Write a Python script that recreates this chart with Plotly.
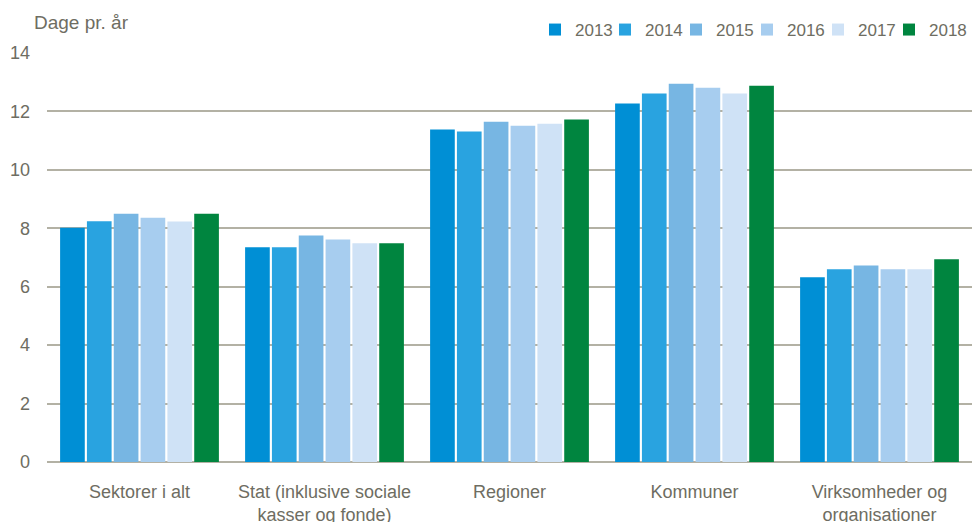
import plotly.graph_objects as go

categories = ["Sektorer i alt", "Stat (inklusive sociale<br>kasser og fonde)", "Regioner", "Kommuner", "Virksomheder og<br>organisationer"]
years = ["2013", "2014", "2015", "2016", "2017", "2018"]
v2013 = [8.02, 7.35, 11.38, 12.27, 6.32]
v2014 = [8.24, 7.35, 11.31, 12.61, 6.60]
v2015 = [8.50, 7.75, 11.65, 12.95, 6.73]
v2016 = [8.36, 7.62, 11.51, 12.81, 6.60]
v2017 = [8.23, 7.49, 11.58, 12.61, 6.60]
v2018 = [8.50, 7.49, 11.72, 12.88, 6.94]
series = [v2013, v2014, v2015, v2016, v2017, v2018]
colors = ["#008FD5", "#29A3E0", "#77B6E3", "#A7CDEF", "#CFE2F6", "#00853F"]

FONT = "Liberation Sans, Arial, sans-serif"
TXT = "#6E6D62"
GRID = "#B3B1A4"

W = 972
H = 522
L = 47
B = 60
PLOT_TOP = 53
AREA = H - B  # paper area height (t=0)
PW = W - L

# legend text start positions (px) from the reference
legend_text_x = [575, 645, 716, 787, 858, 929]

fig = go.Figure()
legend_layouts = {}
for i, (y, vals, c) in enumerate(zip(years, series, colors)):
    lname = "legend" if i == 0 else f"legend{i + 1}"
    fig.add_trace(go.Bar(x=categories, y=vals, name=y, legend=lname,
                         marker=dict(color=c, line=dict(width=0))))
    legend_layouts[lname] = dict(
        orientation="h", x=(legend_text_x[i] - 40 - L) / PW, xanchor="left",
        y=(AREA - 30) / AREA, yanchor="middle",
        font=dict(size=17, color=TXT), itemwidth=30,
        bgcolor="rgba(0,0,0,0)")

fig.update_layout(
    width=W, height=H,
    margin=dict(l=L, r=0, t=0, b=B, autoexpand=False),
    paper_bgcolor="white", plot_bgcolor="white",
    barmode="group", bargap=0.13, bargroupgap=0.08,
    font=dict(family=FONT, size=18, color=TXT),
    showlegend=True,
    annotations=[dict(text="Dage pr. år", xref="paper", yref="paper", x=-0.016, y=(AREA - 22) / AREA,
                      xanchor="left", yanchor="middle", showarrow=False,
                      font=dict(size=19, color=TXT))],
    **legend_layouts,
)
fig.update_yaxes(range=[0, 14], dtick=2, domain=[0, (AREA - PLOT_TOP) / AREA],
                 showgrid=True, gridcolor=GRID, gridwidth=2,
                 zeroline=True, zerolinecolor=GRID, zerolinewidth=2,
                 showline=False, ticks="", ticklabelstandoff=16, automargin=False,
                 tickfont=dict(size=18, color=TXT))
fig.update_xaxes(showline=False, ticks="", ticklabelstandoff=17, automargin=False,
                 tickfont=dict(size=18, color=TXT))

fig.write_html("out.html", config={"displayModeBar": False},
               post_script="document.body.style.margin='0';document.body.style.padding='0';")
